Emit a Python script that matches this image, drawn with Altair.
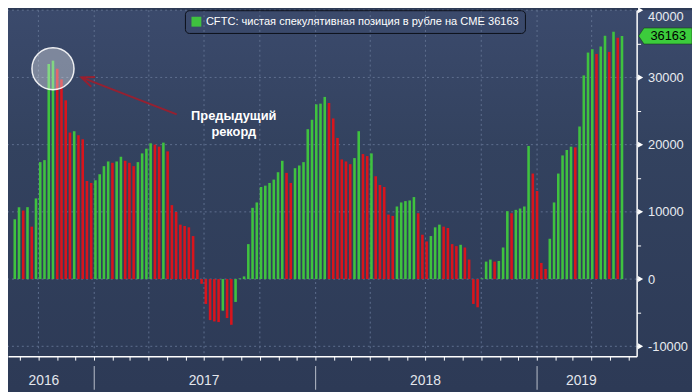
import altair as alt
import pandas as pd

# ---- data (weekly CFTC net speculative position in RUB on CME, contracts) ----
start_date = "2016-08-23"
values = [8900, 10700, 10200, 10700, 7800, 12000, 17400, 17700, 32000, 32500,
          31300, 29700, 26600, 21800, 22000, 21400, 20800, 14600, 14300, 14700,
          15600, 16800, 17500, 17300, 17500, 18200, 17600, 17300, 16800, 17400,
          18700, 19400, 20200, 20000, 19700, 20300, 19000, 11000, 10000, 8100,
          7900, 7700, 6400, 1400, -700, -3700, -6100, -6300, -6400, -4700,
          -5800, -6800, -3400, 100, 400, 5200, 10600, 11400, 13700, 13900,
          14300, 14800, 15900, 17600, 15800, 14300, 16500, 16900, 17400, 22300,
          23700, 26000, 26100, 27100, 26200, 23900, 21000, 17800, 17500, 17100,
          18000, 22000, 18600, 18300, 18700, 15300, 14000, 13700, 9600, 9400,
          10800, 11400, 11600, 11700, 12200, 9800, 6600, 5600, 6400, 7700,
          8100, 7800, 7600, 5200, 4900, 5100, 4700, 2900, -3700, -4200,
          100, 2600, 2900, 2600, 2700, 4700, 10100, 9800, 10300, 10500,
          10800, 19800, 15700, 13100, 2400, 1500, 6000, 11400, 15700, 18400,
          19200, 19700, 19600, 22700, 30300, 33700, 34200, 33500, 34600, 36200,
          33800, 36800, 35900, 36163]

legend_label = "CFTC: чистая спекулятивная позиция в рубле на CME 36163"
annotation_text = "Предыдущий\nрекорд"
year_labels = ["2016", "2017", "2018", "2019"]
year_label_dates = ["2016-10-10T00:00:00", "2017-07-01T00:00:00",
                    "2018-07-01T00:00:00", "2019-03-15T00:00:00"]
year_breaks = ["2017-01-01T00:00:00", "2018-01-01T00:00:00", "2019-01-01T00:00:00"]
quarter_lines = ["2016-10-01", "2017-01-01", "2017-04-01", "2017-07-01", "2017-10-01",
                 "2018-01-01", "2018-04-01", "2018-07-01", "2018-10-01",
                 "2019-01-01", "2019-04-01"]
y_grid = [-10000, 0, 10000, 20000, 30000, 40000]
y_ticks = list(range(-10000, 40001, 5000))

# record circle / arrow annotation anchors (date, value)
record_point = ("2016-10-25T00:00:00", 31300)
arrow_from = ("2017-05-17T00:00:00", 24500)
arrow_to = ("2016-12-11T00:00:00", 30000)
annot_pos = ("2017-08-19T00:00:00", 24300)

# ---- styling ----
PW, PH = 636, 350
GRID = "#5f6f8f"
GREEN = "#3fc23f"
RED = "#d9141c"
FONT = "Liberation Sans"

dates = pd.date_range(start_date, periods=len(values), freq="7D")
direction = ["up" if i == 0 or v > values[i - 1] else "down" for i, v in enumerate(values)]
df = pd.DataFrame({"date": dates.strftime("%Y-%m-%dT00:00:00"), "value": values, "dir": direction})

xscale = alt.Scale(domain=["2016-08-20T00:00:00", "2019-06-06T00:00:00"])
yscale = alt.Scale(domain=[-11470, 40000], nice=False, zero=False)

xaxis = alt.Axis(title=None, labels=False, grid=False, domainColor="#ffffff", domainWidth=1.5,
                 tickColor="#ffffff", tickSize=4, tickCount={"interval": "month", "step": 1},
                 zindex=1)
yaxis = alt.Axis(title=None, orient="right", values=y_ticks, grid=False,
                 labelExpr="datum.value % 10000 == 0 ? '' + datum.value : ''",
                 domainColor="#ffffff", domainWidth=1.5, tickColor="#ffffff", tickSize=4,
                 labelColor="#e8ebf0", labelFont=FONT, labelFontSize=13, labelPadding=7,
                 labelFlush=False, labelOverlap=False, zindex=1,
                 labelBaseline={"condition": {"test": "datum.value >= 40000", "value": "top"},
                                "value": "middle"})


def X(field):
    return alt.X(f"{field}:T", scale=xscale, axis=xaxis)


def Y(field):
    return alt.Y(f"{field}:Q", scale=yscale, axis=yaxis)


bg_grad = alt.LinearGradient(gradient="linear", x1=0, x2=0, y1=0, y2=1,
                             stops=[alt.GradientStop(color="#3b4a6c", offset=0),
                                    alt.GradientStop(color="#33425f", offset=0.35),
                                    alt.GradientStop(color="#2d3a56", offset=1)])
background = alt.Chart(pd.DataFrame({"k": [0]})).mark_rect(color=bg_grad).encode(
    x=alt.value(0), x2=alt.value(PW + 56), y=alt.value(0), y2=alt.value(PH + 34))

hgrid = alt.Chart(pd.DataFrame({"value": y_grid})).mark_rule(
    color=GRID, strokeDash=[2, 3], strokeWidth=1).encode(y=Y("value"))

vgrid = alt.Chart(pd.DataFrame({"date": [d + "T00:00:00" for d in quarter_lines]})).mark_rule(
    color=GRID, strokeDash=[2, 3], strokeWidth=1).encode(x=X("date"))

bars = alt.Chart(df).mark_bar(size=2.6).encode(
    x=X("date"),
    y=Y("value"),
    color=alt.Color("dir:N",
                    scale=alt.Scale(domain=["up", "down"], range=[GREEN, RED]),
                    legend=alt.Legend(values=["up"], title=None, orient="none",
                                      legendX=179, legendY=0, direction="horizontal",
                                      labelExpr="'" + legend_label + "'",
                                      strokeColor="#0b0f18",
                                      cornerRadius=4, padding=6, symbolType="square",
                                      symbolSize=100, symbolStrokeWidth=0,
                                      labelColor="#ffffff", labelFont=FONT,
                                      labelFontSize=11.2, labelLimit=400)),
)

circle = alt.Chart(pd.DataFrame({"date": [record_point[0]], "value": [record_point[1]]})).mark_point(
    shape="circle", size=1810, filled=True, fill="#ffffff", fillOpacity=0.35,
    stroke="#ffffff", strokeWidth=1.5, strokeOpacity=0.9, opacity=1).encode(
    x=X("date"), y=Y("value"))

arrow_df = pd.DataFrame({"date": [arrow_from[0]], "value": [arrow_from[1]],
                         "date2": [arrow_to[0]], "value2": [arrow_to[1]]})
arrow = alt.Chart(arrow_df).mark_rule(color="#a01d2b", strokeWidth=2, opacity=0.9).encode(
    x=X("date"), y=Y("value"), x2="date2:T", y2="value2:Q")

head = alt.Chart(pd.DataFrame({"date": [arrow_to[0]], "value": [arrow_to[1]]})).mark_point(
    shape="M1.8,-0.75 L0,0 L1.8,0.75", size=196, filled=False, stroke="#a01d2b",
    strokeWidth=2, angle=21, opacity=0.9).encode(x=X("date"), y=Y("value"))

annot = alt.Chart(pd.DataFrame({"date": [annot_pos[0]], "value": [annot_pos[1]],
                                "text": [annotation_text]})).mark_text(
    lineBreak="\n", font=FONT, fontSize=13, fontWeight="bold", color="#ffffff",
    align="center", baseline="middle", lineHeight=17).encode(
    x=X("date"), y=Y("value"), text="text:N")

seps = alt.Chart(pd.DataFrame({"date": year_breaks})).mark_rule(
    color="#b9bfcb", strokeWidth=1).encode(
    x=X("date"), y=alt.value(PH + 10), y2=alt.value(PH + 34))

years = alt.Chart(pd.DataFrame({"date": year_label_dates, "label": year_labels})).mark_text(
    font=FONT, fontSize=14, color="#e3e6ec", align="center", baseline="middle").encode(
    x=X("date"), y=alt.value(PH + 25), text="label:N")

tri = alt.Chart(pd.DataFrame({"value": y_grid})).mark_point(
    shape="triangle-right", size=36, filled=True, color="#ffffff", opacity=1).encode(
    x=alt.value(PW + 4), y=Y("value"))

last_df = pd.DataFrame({"value": [values[-1]], "label": [str(values[-1])]})
tag = alt.Chart(last_df).mark_point(
    shape="M-1,0 L-0.8,-0.3 L1,-0.3 L1,0.3 L-0.8,0.3 Z", size=2916, filled=True,
    fill="#3ccc3c", stroke="#14401a", strokeWidth=0.6, opacity=1).encode(
    x=alt.value(PW + 29), y=Y("value"))
tag_text = alt.Chart(last_df).mark_text(
    font=FONT, fontSize=13, color="#000000", align="center", baseline="middle").encode(
    x=alt.value(PW + 32), y=Y("value"), text="label:N")

chart = alt.layer(background, hgrid, vgrid, bars, circle, arrow, head, annot, seps, years,
                  tri, tag, tag_text).properties(
    width=PW, height=PH,
    autosize=alt.AutoSizeParams(type="none"),
    padding={"left": 0, "top": 0, "right": 56, "bottom": 34},
    background="#2d3a56",
).configure_view(stroke=None)

chart.save("out.html", embed_options={"renderer": "svg", "actions": False})
